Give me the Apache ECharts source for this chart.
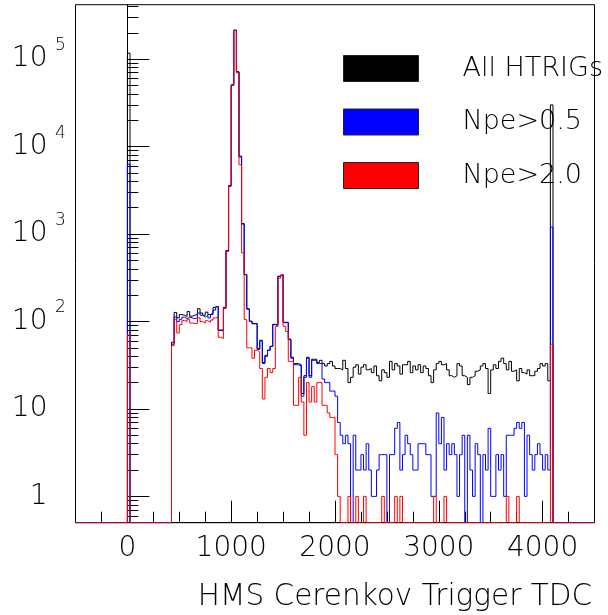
<!DOCTYPE html>
<html><head><meta charset="utf-8">
<script src="https://cdn.jsdelivr.net/npm/echarts@6/dist/echarts.min.js"></script>
<style>html,body{margin:0;padding:0;background:#fff}#c{width:608px;height:615px}</style>
</head><body><div id="c"></div>
<script>
// ---- DATA ----
const binLow = -500;       // lower edge of first bin
const binWidth = 25;       // TDC channels per bin
const seriesNames = ['All HTRIGs', 'Npe>0.5', 'Npe>2.0'];
const xTickLabels = [0, 1000, 2000, 3000, 4000];
const xMinorTicks = [-250, 250, 500, 750, 1250, 1500, 1750, 2250, 2500, 2750, 3250, 3500, 3750, 4250];
const yTickLabels = [1, 10, 100, 1000, 10000, 100000];
const yMinorTicks = [0.6, 0.7, 0.8, 0.9, 2, 3, 4, 5, 6, 7, 8, 9, 20, 30, 40, 50, 60, 70, 80, 90,
  200, 300, 400, 500, 600, 700, 800, 900, 2000, 3000, 4000, 5000, 6000, 7000, 8000, 9000,
  20000, 30000, 40000, 50000, 60000, 70000, 80000, 90000, 200000, 300000, 400000];

// counts per bin (200 bins, -500 .. 4500)
const allHtrig = [
  0,0,0,0,0,0,0,0,0,0, 0,0,0,0,0,0,0,0,0,0,            // -500 .. -25
  117000, 0,0,0,0,0,0,0,0,0,0,0,0,0,0,0,0,              // 0 .. 400
  58,127,110,120,118,114,130,115,118,120,140,125,118,128,120,125,145,150, // 425 .. 850
  80,80,145,650,3600,51000,215000,72000,7800,1320,345,140,101,95,95,49,61, // 875 .. 1275
  34,41,47,52,93,91,330,345,98,98,63,39,33,33,32,15,24,39,24,37,37,34,     // 1300 .. 1825
  36,33,31,33,35,31,29,29,28,36,29,20,23,30,32,25,30,32,28,29,26,31,24,21, // 1850 .. 2425
  28,26,23,35,28,33,31,25,32,32,35,26,31,28,32,26,31,29,24,20,28,33,35,32, // 2450 .. 3025
  33,28,24,23,24,33,31,24,23,19,23,24,27,28,31,33,29,15,28,32,29,35,38,33, // 3050 .. 3625
  28,35,27,28,21,29,26,25,28,24,24,27,29,33,31,33,21,                      // 3650 .. 4050
  30000, 0,0,0,0,0,0,0,0,0,0,0,0,0,0,0,0                // 4075 .. 4475
];
const npe05 = [
  0,0,0,0,0,0,0,0,0,0, 0,0,0,0,0,0,0,0,0,0,
  6300, 0,0,0,0,0,0,0,0,0,0,0,0,0,0,0,0,
  55,113,100,106,112,108,112,110,108,110,125,118,112,118,110,120,135,148,
  79,78,143,644,3580,50700,214000,71000,7600,1300,342,138,100,94,94,48,60,
  33,40,47,52,92,90,327,342,97,97,62,38,32,32,31,14,23,38,23,36,36,33,
  33,22,20,20,16,16,14,7,5,4,5,4,0,5,2,2,3,2,4,2,1,1,2,3,
  3,3,0,3,3,6,7,2,3,5,4,3,2,2,4,4,4,3,3,1,1,9,4,8,
  2,4,3,4,3,1,3,5,0,5,2,1,4,3,0,3,2,6,1,1,3,2,3,1,
  5,5,5,6,7,6,7,1,5,3,2,3,4,3,2,3,2,
  1200, 0,0,0,0,0,0,0,0,0,0,0,0,0,0,0,0
];
const npe20 = [
  0,0,0,0,0,0,0,0,0,0, 0,0,0,0,0,0,0,0,0,0,
  70, 0,0,0,0,0,0,0,0,0,0,0,0,0,0,0,0,
  53,106,74,92,103,100,106,96,95,95,110,100,96,102,98,104,110,112,
  66,64,140,630,3500,50000,212000,70000,6200,610,105,50,50,38,47,45,29,
  13,23,29,26,29,88,313,342,88,77,35,35,11,11,23,12,5,20,12,18,12,20,
  20,11,11,9,8,8,3,1,0,0,0,1,0,0,1,0,0,1,0,0,0,0,0,0,
  1,0,0,0,0,1,0,1,0,0,0,0,0,0,0,0,0,0,0,0,1,0,0,0,
  1,0,0,0,0,0,0,0,0,0,0,0,0,0,0,0,0,0,0,0,0,0,0,0,
  1,0,0,0,1,0,0,0,0,0,0,0,0,0,0,0,0,
  55, 0,0,0,0,0,0,0,0,0,0,0,0,0,0,0,0
];
const colors = ['#000000', '#0000ff', '#ff0000'];

// ---- CHART ----
const yMin = 0.5, yMax = 4.2e5;
const FONT = "'DejaVu Sans', sans-serif";
// ROOT draws empty bins on the bottom of the frame: map 0 to the axis minimum.
function histPoints(counts) {
  const pts = counts.map((c, i) => [binLow + i * binWidth, c > 0 ? c : yMin]);
  const last = counts[counts.length - 1];
  pts.push([binLow + counts.length * binWidth, last > 0 ? last : yMin]);
  return pts;
}
const chart = echarts.init(document.getElementById('c'), null, {renderer: 'canvas'});
const hists = [allHtrig, npe05, npe20];
chart.setOption({
  animation: false,
  backgroundColor: '#ffffff',
  grid: {left: 75.5, right: 13.5, top: 4.7, bottom: 92.3, show: true,
         borderColor: '#000', borderWidth: 1, backgroundColor: 'transparent',
         containLabel: false, outerBoundsMode: 'none'},
  title: {text: 'HMS Cerenkov Trigger TDC', right: 16, top: 582, padding: 0,
          textStyle: {fontFamily: FONT, fontSize: 29.5, fontWeight: 200, color: '#000', lineHeight: 30}},
  legend: {
    orient: 'vertical', left: 343, top: 55, padding: 0, itemWidth: 75, itemHeight: 26, itemGap: 26.5,
    icon: 'rect', selectedMode: false,
    textStyle: {fontFamily: FONT, fontSize: 27, fontWeight: 200, color: '#000', lineHeight: 26, padding: [0, 0, 0, 39]},
    data: seriesNames.map((n, k) => ({name: n, icon: 'rect',
      itemStyle: {color: colors[k], borderColor: '#222', borderWidth: 1}}))
  },
  xAxis: [{
    type: 'value', min: binLow, max: binLow + 200 * binWidth,
    axisLine: {lineStyle: {color: '#000', width: 1}},
    axisTick: {inside: true, length: 22, customValues: xTickLabels, lineStyle: {color: '#000'}},
    axisLabel: {customValues: xTickLabels, formatter: v => String(v), fontFamily: FONT, fontSize: 28, fontWeight: 200,
                color: '#000', margin: 12, lineHeight: 28},
    splitLine: {show: false}
  }, {
    type: 'value', min: binLow, max: binLow + 200 * binWidth, position: 'bottom', gridIndex: 0,
    axisLine: {show: false},
    axisTick: {inside: true, length: 11, customValues: xMinorTicks, lineStyle: {color: '#000'}},
    axisLabel: {show: false}, splitLine: {show: false}
  }],
  yAxis: [{
    type: 'log', logBase: 10, min: yMin, max: yMax,
    axisLine: {lineStyle: {color: '#000', width: 1}},
    axisTick: {inside: true, length: 22, customValues: yTickLabels, lineStyle: {color: '#000'}},
    axisLabel: {
      customValues: yTickLabels, fontFamily: FONT, fontSize: 28, fontWeight: 200, color: '#000', margin: 9,
      lineHeight: 44,
      formatter: v => {
        const e = Math.round(Math.log10(v));
        return e < 2 ? String(Math.round(v)) + '{sp| }' : '10{sup|' + e + '}';
      },
      rich: {
        sup: {fontFamily: FONT, fontSize: 17, fontWeight: 200, color: '#000', verticalAlign: 'top', lineHeight: 17,
              width: 12, padding: [0, 0, 0, 7], align: 'left'},
        sp: {fontFamily: FONT, fontSize: 17, lineHeight: 17, width: 12, padding: [0, 0, 0, 7]}
      }
    },
    splitLine: {show: false}, minorTick: {show: false}
  }, {
    type: 'log', logBase: 10, min: yMin, max: yMax, position: 'left', gridIndex: 0,
    axisLine: {show: false},
    axisTick: {inside: true, length: 11, customValues: yMinorTicks, lineStyle: {color: '#000'}},
    axisLabel: {show: false}, splitLine: {show: false}
  }],
  series: hists.map((h, k) => ({
    name: seriesNames[k], type: 'line', step: 'end', xAxisIndex: 0, yAxisIndex: 0,
    data: histPoints(h), symbol: 'none', showSymbol: false, silent: true,
    lineStyle: {color: colors[k], width: 1}, itemStyle: {color: colors[k]}, z: 2 + k
  }))
});
</script></body></html>
